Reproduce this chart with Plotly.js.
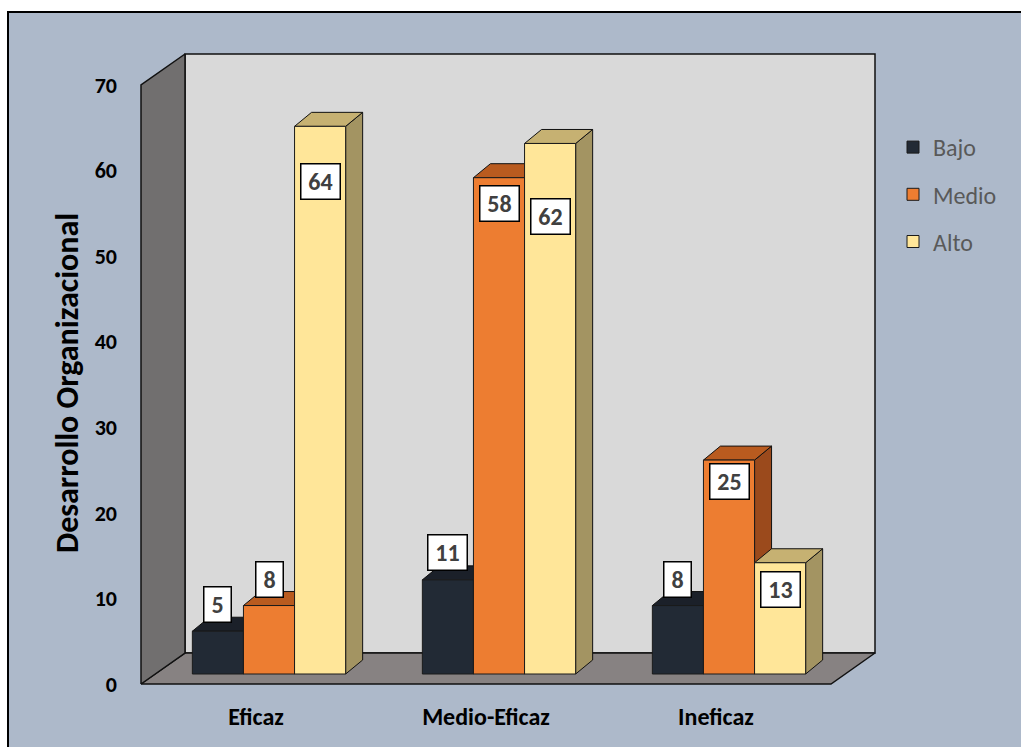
<!DOCTYPE html>
<html>
<head>
<meta charset="utf-8">
<script src="https://cdn.plot.ly/plotly-3.0.1.min.js"></script>
<style>html,body{margin:0;padding:0;background:#fff;}#chart{width:1021px;height:747px;}</style>
</head>
<body>
<div id="chart"></div>
<script>
// ---- data ----
const categories = ["Eficaz", "Medio-Eficaz", "Ineficaz"];
const seriesNames = ["Bajo", "Medio", "Alto"];
const bajo  = [5, 11, 8];
const medio = [8, 58, 25];
const alto  = [64, 62, 13];
const yTicks = [0, 10, 20, 30, 40, 50, 60, 70];
const yTitle = "Desarrollo Organizacional";

// ---- styles / geometry (pseudo-3D look) ----
const FONT = "Calibri, Carlito, Lato, sans-serif";
const PXX = 230, PXY = 8.557;              // pixels per unit
const floorDx = 44 / PXX, floorDy = 31 / PXY;   // wall depth
const barSx = 13 / PXX, barSy = 10 / PXY;       // bar plane shift
const barDx = 17 / PXX, barDy = 14 / PXY;       // bar depth
const W = 51.1 / PXX;                           // bar width
const wallH = 70;
const colors = [
  {front: "#222a35", top: "#1b2029", side: "#161b22"},
  {front: "#ed7d31", top: "#b95b1f", side: "#9b4a1c"},
  {front: "#ffe699", top: "#c6b172", side: "#a39462"}
];
// label centre offset from bar top (px, positive = below top)
const labelOffsets = [[-27, -26.5, 54.7], [-27, 25.8, 73.5], [-26.5, 21, 26.7]];

const allSeries = [bajo, medio, alto];
const traces = [];
const edge = {color: "#1a1a1a", width: 1};

function poly(xs, ys, color, z, lineW) {
  return {type: "scatter", mode: "lines", x: xs, y: ys, fill: "toself",
    fillcolor: color, line: {color: "#111", width: lineW || 1},
    hoverinfo: "skip", showlegend: false, zorder: z};
}
// walls
const L = -0.5, R = 2.5;
traces.push(poly([L+floorDx, R+floorDx, R+floorDx, L+floorDx, L+floorDx],
                 [floorDy, floorDy, wallH+floorDy, wallH+floorDy, floorDy], "#d9d9d9", 0, 1.5));
traces.push(poly([L, R, R+floorDx, L+floorDx, L],
                 [0, 0, floorDy, floorDy, 0], "#878282", 1, 1.5));
traces.push(poly([L, L, L+floorDx, L+floorDx, L],
                 [0, wallH, wallH+floorDy, floorDy, 0], "#716f6f", 2, 1.5));

const annotations = [];
allSeries.forEach((vals, k) => {
  const centers = vals.map((v, i) => i + (k - 1) * W + barSx);
  const sx = [], sy = [], tx = [], ty = [];
  vals.forEach((v, i) => {
    const xl = centers[i] - W / 2, xr = centers[i] + W / 2;
    const b = barSy, t = barSy + v;
    sx.push(xr, xr + barDx, xr + barDx, xr, xr, null);
    sy.push(b, b + barDy, t + barDy, t, b, null);
    tx.push(xl, xr, xr + barDx, xl + barDx, xl, null);
    ty.push(t, t, t + barDy, t + barDy, t, null);
    const s = String(v);
    annotations.push({x: centers[i], y: t, xref: "x", yref: "y", text: s,
      showarrow: false, yshift: -labelOffsets[i][k],
      font: {family: FONT, size: 24, color: "#404040", weight: 700},
      bgcolor: "#ffffff", bordercolor: "#000000", borderwidth: 1.5, borderpad: 4,
      width: s.length > 1 ? 30 : 18, height: 26, align: "center", valign: "middle"});
  });
  traces.push(poly(sx, sy, colors[k].side, 10 + 3 * k));
  traces.push(poly(tx, ty, colors[k].top, 11 + 3 * k));
  traces.push({type: "bar", name: seriesNames[k], x: centers, y: vals, base: barSy,
    width: W, marker: {color: colors[k].front, line: edge},
    legendgroup: "g" + k, hoverinfo: "skip", zorder: 12 + 3 * k});
});

annotations.push({xref: "paper", yref: "paper", x: (67 - 132) / 768, y: (700 - 383) / 660,
  text: yTitle, textangle: -90, showarrow: false, xanchor: "center", yanchor: "middle",
  font: {family: FONT, size: 32, color: "#000", weight: 700}});

const layout = {
  width: 1021, height: 747,
  margin: {l: 132, r: 121, t: 40, b: 47},
  paper_bgcolor: "#ffffff", plot_bgcolor: "rgba(0,0,0,0)",
  barmode: "overlay",
  showlegend: true,
  legend: {x: (893 - 132) / 768, y: (700 - 125) / 660, xanchor: "left", yanchor: "top",
    font: {family: FONT, size: 24, color: "#595959"}, tracegroupgap: 13,
    bgcolor: "rgba(0,0,0,0)", traceorder: "grouped"},
  xaxis: {range: [-124 / PXX, (900 - 256) / PXX], tickvals: [0, 1, 2], ticktext: categories,
    showgrid: false, zeroline: false, showline: false, ticks: "",
    tickfont: {family: FONT, size: 24, color: "#000", weight: 700}, fixedrange: true},
  yaxis: {range: [(684 - 700) / PXY, (684 - 40) / PXY], tickvals: yTicks,
    showgrid: false, zeroline: false, showline: false, ticks: "", ticklabelstandoff: 14,
    tickfont: {family: FONT, size: 22, color: "#000", weight: 700}, fixedrange: true},
  shapes: [{type: "rect", xref: "paper", yref: "paper", layer: "below",
    x0: (8 - 132) / 768, x1: (1040 - 132) / 768, y0: (700 - 770) / 660, y1: (700 - 12) / 660,
    fillcolor: "#adb9ca", line: {color: "#000", width: 2}}],
  annotations: annotations
};
Plotly.newPlot("chart", traces, layout, {displayModeBar: false, staticPlot: true});
</script>
</body>
</html>
